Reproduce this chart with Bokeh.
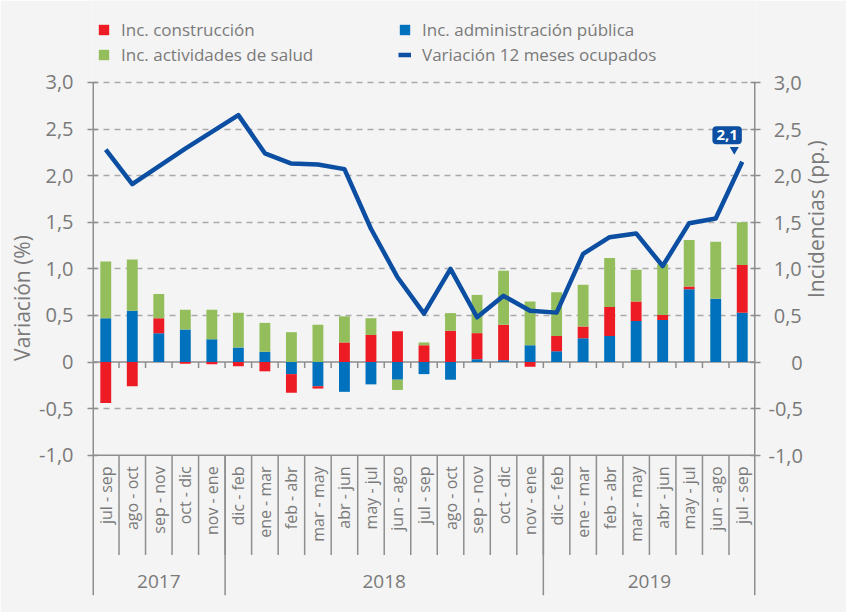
from math import pi
import numpy as np
from bokeh.plotting import figure
from bokeh.models import (Range1d, LinearAxis, FixedTicker, CustomJSTickFormatter,
                          Span, Legend, LegendItem, Label)
from bokeh.core.properties import value
from bokeh.embed import file_html
from bokeh.resources import INLINE

# ---------------- data ----------------
periods = ["jul - sep", "ago - oct", "sep - nov", "oct - dic", "nov - ene",
           "dic - feb", "ene - mar", "feb - abr", "mar - may", "abr - jun",
           "may - jul", "jun - ago", "jul - sep", "ago - oct", "sep - nov",
           "oct - dic", "nov - ene", "dic - feb", "ene - mar", "feb - abr",
           "mar - may", "abr - jun", "may - jul", "jun - ago", "jul - sep"]
years = ["2017", "2018", "2019"]
year_counts = [5, 12, 8]

inc_admin = [0.47, 0.55, 0.31, 0.35, 0.245, 0.155, 0.11, -0.13, -0.26, -0.32,
             -0.24, -0.19, -0.13, -0.19, 0.03, 0.02, 0.18, 0.115, 0.255, 0.28,
             0.44, 0.45, 0.78, 0.68, 0.53]
inc_constr = [-0.44, -0.26, 0.16, -0.02, -0.025, -0.045, -0.10, -0.20, -0.025, 0.21,
              0.29, 0.33, 0.18, 0.335, 0.28, 0.38, -0.05, 0.165, 0.125, 0.31,
              0.21, 0.055, 0.03, 0.0, 0.51]
inc_salud = [0.61, 0.55, 0.26, 0.21, 0.315, 0.375, 0.31, 0.32, 0.40, 0.28,
             0.18, -0.11, 0.03, 0.19, 0.41, 0.58, 0.47, 0.47, 0.45, 0.525,
             0.34, 0.545, 0.50, 0.61, 0.46]
variacion = [2.28, 1.91, 2.10, 2.29, 2.47, 2.65, 2.24, 2.13, 2.12, 2.07,
             1.43, 0.91, 0.52, 1.00, 0.48, 0.71, 0.55, 0.53, 1.16, 1.34,
             1.38, 1.03, 1.49, 1.54, 2.15]
last_label = "2,1"
y_ticks = [-1.0, -0.5, 0.0, 0.5, 1.0, 1.5, 2.0, 2.5, 3.0]
grid_ticks = [-0.5, 0.5, 1.0, 1.5, 2.0, 2.5, 3.0]

# ---------------- style ----------------
BG = "#F4F4F4"
TXT = "#7A7A7A"
AXC = "#8E8E8E"
GRIDC = "#A9A9A9"
C_CON = "#ED1C24"
C_ADM = "#0071BC"
C_SAL = "#93BE5B"
C_VAR = "#0B4EA2"
FONT = "Open Sans"

n = len(periods)
xs = np.arange(n) + 0.5
Y_AX_TOP = 3.0
Y_TOP = 3.88      # extra room above the axes for the legend
Y_BOTTOM = -2.506

p = figure(width=846, height=612, x_range=Range1d(0, n), y_range=Range1d(Y_BOTTOM, Y_TOP),
           output_backend="svg", toolbar_location=None, x_axis_location=None,
           y_axis_location="left",
           min_border_left=92, min_border_right=91, min_border_top=0, min_border_bottom=17,
           background_fill_color=BG, border_fill_color=BG, outline_line_color=None)

p.extra_y_ranges = {"inc": Range1d(Y_BOTTOM, Y_TOP)}
right_axis = LinearAxis(y_range_name="inc")
p.add_layout(right_axis, "right")

left_axis = p.yaxis[0]
left_axis.formatter = CustomJSTickFormatter(
    code="return tick == 0 ? '0' : tick.toFixed(1).replace('.', ',');")
right_axis.formatter = CustomJSTickFormatter(
    code="if (tick == 0) return '\\u2007\\u20070';"
         "var s = tick.toFixed(1).replace('.', ',');"
         "return tick > 0 ? '\\u2008' + s : s;")
left_axis.axis_label = "Variación (%)"
right_axis.axis_label = "Incidencias (pp.)"
right_axis.axis_label_orientation = pi / 2

for ax, standoff, lab_standoff in ((left_axis, 14, 0), (right_axis, 8, 10)):
    ax.ticker = FixedTicker(ticks=y_ticks)
    ax.axis_line_color = None
    ax.major_tick_line_color = AXC
    ax.major_tick_line_width = 1.5
    ax.major_tick_in = 5
    ax.major_tick_out = 5
    ax.minor_tick_line_color = None
    ax.major_label_text_font = FONT
    ax.major_label_text_font_size = "20px"
    ax.major_label_text_color = TXT
    ax.major_label_standoff = standoff
    ax.axis_label_text_font = FONT
    ax.axis_label_text_font_size = "21px"
    ax.axis_label_text_font_style = "normal"
    ax.axis_label_text_color = TXT
    ax.axis_label_standoff = lab_standoff

p.xgrid.grid_line_color = None
p.ygrid.ticker = FixedTicker(ticks=grid_ticks)
p.ygrid.grid_line_color = GRIDC
p.ygrid.grid_line_dash = "6 5"
p.ygrid.grid_line_width = 1.5

# zero line and bottom axis line
p.add_layout(Span(location=0, dimension="width", line_color=AXC, line_width=1.5, level="underlay"))
p.add_layout(Span(location=-1, dimension="width", line_color=AXC, line_width=1.5))

# vertical axis lines (from 3,0 down to the bottom of the year band)
p.segment(x0=[0, n], y0=Y_AX_TOP, x1=[0, n], y1=Y_BOTTOM, line_color=AXC, line_width=3)

# ---------------- stacked bars (positive / negative stacks) ----------------
pos = np.zeros(n)
neg = np.zeros(n)
bar_r = {}
for key, vals, col in (("adm", inc_admin, C_ADM), ("con", inc_constr, C_CON), ("sal", inc_salud, C_SAL)):
    v = np.array(vals, dtype=float)
    bottom = np.where(v >= 0, pos, neg)
    top = bottom + v
    pos = np.where(v >= 0, top, pos)
    neg = np.where(v < 0, top, neg)
    bar_r[key] = p.vbar(x=xs, width=0.41, bottom=bottom, top=top,
                        fill_color=col, line_color=None)

# ---------------- line ----------------
r_var = p.line(xs, variacion, line_color=C_VAR, line_width=4.5, line_join="round")

# label of last value
p.scatter(x=[xs[-1] - 0.3], y=[variacion[-1] + 0.13], marker="inverted_triangle",
          size=9, fill_color=C_VAR, line_color=None)
p.add_layout(Label(x=xs[-1] - 0.57, y=variacion[-1] + 0.285, text=last_label,
                   text_align="center", text_baseline="middle", text_color="white",
                   text_font=FONT, text_font_style="bold", text_font_size="15px",
                   background_fill_color=C_VAR, padding=4, border_radius=4))

# ---------------- category axis drawn below -1 ----------------
bounds = np.arange(1, n)
p.segment(x0=bounds, y0=0, x1=bounds, y1=-0.065, line_color=AXC, line_width=1.5)
p.segment(x0=bounds, y0=-1, x1=bounds, y1=-2.07, line_color=AXC, line_width=1.5)
year_bounds = np.cumsum(year_counts)[:-1]
p.segment(x0=year_bounds, y0=-1, x1=year_bounds, y1=Y_BOTTOM, line_color=AXC, line_width=1.5)

p.text(x=xs, y=np.full(n, -1.12), text=periods, angle=pi / 2, text_align="right",
       text_baseline="middle", text_font=value(FONT), text_font_size="16px", text_color=TXT)

ends = np.cumsum(year_counts)
year_centers = ends - np.array(year_counts) / 2
p.text(x=year_centers, y=np.full(len(years), -2.356), text=years, text_align="center",
       text_baseline="middle", text_font=value(FONT), text_font_size="19px", text_color=TXT)

# ---------------- legends ----------------
leg1 = Legend(items=[LegendItem(label="Inc. construcción", renderers=[bar_r["con"]]),
                     LegendItem(label="Inc. actividades de salud", renderers=[bar_r["sal"]])],
              location=(5, 529))
leg2 = Legend(items=[LegendItem(label="Inc. administración pública", renderers=[bar_r["adm"]]),
                     LegendItem(label="Variación 12 meses ocupados", renderers=[r_var])],
              location=(306, 529))
for lg in (leg1, leg2):
    lg.padding = 0
    lg.margin = 0
    lg.border_line_color = None
    lg.background_fill_alpha = 0
    lg.glyph_width = 13
    lg.glyph_height = 13
    lg.label_standoff = 11
    lg.spacing = 2
    lg.label_text_font = FONT
    lg.label_text_font_size = "17px"
    lg.label_text_color = TXT
    p.add_layout(lg, "center")

open("out.html", "w").write(file_html(p, INLINE))
